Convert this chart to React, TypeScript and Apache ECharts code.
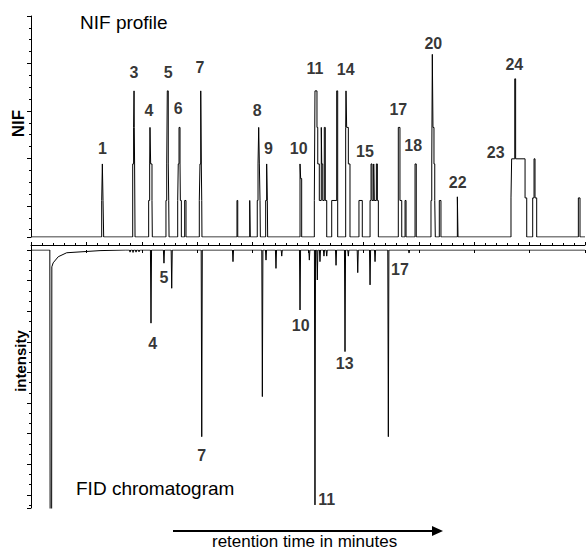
import React, { useEffect, useRef } from "react";
import * as echarts from "echarts";

// NIF profile: step changes [retention time (min), NIF level after the change]
const nifSteps: [number, number][] = [
  [6.38, 1], [6.44, 2], [6.5, 1], [6.56, 0],
  [9.18, 2], [9.26, 3], [9.3, 4], [9.32, 3], [9.35, 2], [9.39, 0],
  [10.62, 1], [10.71, 2], [10.74, 3], [10.8, 2], [10.92, 1], [10.95, 0],
  [12.18, 1], [12.25, 2], [12.3, 4], [12.39, 2], [12.43, 1], [12.46, 0],
  [13.24, 1], [13.29, 2], [13.36, 3], [13.45, 2], [13.48, 1], [13.57, 0],
  [13.87, 1], [13.99, 0],
  [15.19, 1], [15.25, 2], [15.32, 4], [15.37, 2], [15.41, 1], [15.43, 0],
  [18.59, 1], [18.66, 0],
  [19.74, 1], [19.79, 0],
  [20.42, 1], [20.49, 2], [20.55, 3], [20.61, 2], [20.67, 1], [20.7, 0],
  [21.18, 1], [21.27, 2], [21.33, 1], [21.36, 0],
  [24.28, 2], [24.34, 1.6], [24.43, 0],
  [25.57, 1], [25.63, 4], [25.81, 3], [25.88, 2], [26.02, 1], [26.2, 3], [26.24, 2], [26.33, 1], [26.47, 3], [26.56, 1], [26.69, 0],
  [27.14, 1], [27.59, 4], [27.68, 0],
  [28.4, 3], [28.43, 4], [28.49, 3], [28.64, 2], [28.79, 0],
  [29.6, 1], [29.9, 0],
  [30.6, 1], [30.69, 2], [30.78, 1], [30.93, 2], [30.98, 1], [31.17, 2], [31.26, 1], [31.35, 0],
  [33.15, 3], [33.3, 1], [33.46, 0], [33.76, 1], [33.85, 0],
  [34.66, 2], [34.77, 0],
  [36.1, 1], [36.17, 2], [36.22, 5], [36.28, 3], [36.37, 2], [36.44, 1], [36.49, 0],
  [36.85, 1], [37.0, 0],
  [38.48, 1.1], [38.54, 0],
  [43.32, 1.07], [43.38, 2.14], [43.66, 4.33], [43.74, 2.14], [44.59, 1.07], [44.74, 0],
  [45.28, 1.07], [45.4, 2.14], [45.49, 1.07], [45.64, 0],
  [49.4, 1.07], [49.55, 0],
];

// FID chromatogram: solvent peak (off scale) and its tail [time, intensity]
const fidSolvent: [number, number][] = [
  [1.7, 0], [1.73, 10], [1.86, 10], [1.88, 0.55], [2.0, 0.42], [2.46, 0.22], [3.22, 0.09], [6.23, 0.02], [8.5, 0],
];
// FID peaks: retention times and peak intensities
const fidPeakTimes = [
  8.94, 9.21, 9.48, 9.75, 10.83, 12.0, 12.7, 15.41, 18.23, 20.88, 21.21, 22.11, 22.63, 24.28,
  25.12, 25.63, 25.84, 26.08, 26.44, 26.69, 27.53, 28.34, 28.64, 29.49, 30.6, 31.05, 32.25, 34.12,
];
const fidPeakHeights = [
  0.07, 0.08, 0.07, 0.06, 2.39, 0.43, 1.25, 6.1, 0.38, 4.79, 0.33, 0.6, 0.2, 1.96,
  0.33, 8.33, 0.98, 0.38, 0.2, 0.2, 0.5, 3.32, 0.2, 0.74, 1.14, 0.38, 6.1, 0.1,
];

// Peak number annotations: [time, level, text]
const nifLabels: [number, number, string][] = [
  [6.44, 2.42, "1"], [9.3, 4.51, "3"], [10.65, 3.46, "4"], [12.39, 4.51, "5"], [13.29, 3.51, "6"],
  [15.25, 4.64, "7"], [20.42, 3.45, "8"], [21.42, 2.42, "9"], [24.16, 2.42, "10"], [25.63, 4.6, "11"],
  [28.4, 4.59, "14"], [30.14, 2.34, "15"], [33.15, 3.49, "17"], [34.5, 2.5, "18"], [36.31, 5.31, "20"],
  [38.51, 1.5, "22"], [41.94, 2.32, "23"], [43.62, 4.71, "24"],
];
const fidLabels: [number, number, string][] = [
  [10.98, 3.05, "4"], [12.0, 0.9, "5"], [15.41, 6.7, "7"], [24.34, 2.48, "10"],
  [26.69, 8.14, "11"], [28.31, 3.71, "13"], [33.3, 0.65, "17"],
];

const FONT = '"Liberation Sans", Arial, sans-serif';

export default function App() {
  const ref = useRef<HTMLDivElement>(null);
  useEffect(() => {
    if (!ref.current) return;
    const chart = echarts.init(ref.current, undefined, { renderer: "svg" });

    const nifLine: number[][] = [[0, 0]];
    let prev = 0;
    for (const [t, l] of nifSteps) {
      nifLine.push([t, prev], [t, l]);
      prev = l;
    }
    nifLine.push([50, prev]);

    const fidLine: number[][] = [[0, 0], ...fidSolvent];
    const hw = 0.05;
    fidPeakTimes.forEach((t, i) => {
      fidLine.push([t - hw, 0], [t, fidPeakHeights[i]], [t + hw, 0]);
    });
    fidLine.push([50, 0]);

    const black = { color: "#000", width: 1 };
    const labelStyle = {
      show: true,
      position: "inside",
      formatter: "{b}",
      color: "#000",
      fontSize: 16,
      fontWeight: "bold",
      fontFamily: FONT,
    };

    const option: any = {
      animation: false,
      grid: [
        { left: 31, right: 1, top: 16, height: 221 },
        { left: 31, right: 1, top: 250, height: 258 },
      ],
      xAxis: [
        { gridIndex: 0, type: "value", min: 0, max: 50, show: false },
        {
          gridIndex: 1, type: "value", min: 0, max: 50, interval: 5, position: "top", offset: 5,
          axisLine: { show: true, onZero: false, lineStyle: black },
          axisTick: { show: true, inside: false, length: 3, lineStyle: black },
          minorTick: { show: true, splitNumber: 5, length: 2, lineStyle: black },
          axisLabel: { show: false }, splitLine: { show: false },
        },
        {
          gridIndex: 1, type: "value", min: 0, max: 50, interval: 5, position: "top", offset: 0,
          axisLine: { show: false, onZero: false },
          axisTick: { show: true, inside: true, length: 3, lineStyle: black },
          axisLabel: { show: false }, splitLine: { show: false },
        },
      ],
      yAxis: [
        { gridIndex: 0, type: "value", min: 0, max: 6.05, show: false },
        {
          gridIndex: 0, type: "value", min: 0, max: 6.05, interval: 1.3, inverse: true, position: "left",
          axisLine: { show: true, onZero: false, lineStyle: black },
          axisTick: { show: true, inside: false, length: 4, lineStyle: black },
          minorTick: { show: true, splitNumber: 4, length: 2, lineStyle: black },
          axisLabel: { show: false }, splitLine: { show: false },
        },
        {
          gridIndex: 1, type: "value", min: 0, max: 8.43, interval: 1, inverse: true, position: "left",
          axisLine: { show: true, onZero: false, lineStyle: black },
          axisTick: { show: true, inside: false, length: 4, lineStyle: black },
          minorTick: { show: true, splitNumber: 3, length: 2, lineStyle: black },
          axisLabel: { show: false }, splitLine: { show: false },
        },
      ],
      series: [
        {
          type: "line", xAxisIndex: 0, yAxisIndex: 0, data: nifLine, symbol: "none",
          lineStyle: black, silent: true,
        },
        {
          type: "line", xAxisIndex: 1, yAxisIndex: 2, data: fidLine, symbol: "none",
          lineStyle: black, silent: true,
        },
        {
          type: "scatter", xAxisIndex: 0, yAxisIndex: 0, symbolSize: 1,
          itemStyle: { color: "rgba(0,0,0,0)" }, label: labelStyle, silent: true,
          data: nifLabels.map(([t, v, s]) => ({ name: s, value: [t, v] })),
        },
        {
          type: "scatter", xAxisIndex: 1, yAxisIndex: 2, symbolSize: 1,
          itemStyle: { color: "rgba(0,0,0,0)" }, label: labelStyle, silent: true,
          data: fidLabels.map(([t, v, s]) => ({ name: s, value: [t, v] })),
        },
      ],
      graphic: [
        {
          type: "line", shape: { x1: 31.5, y1: 245, x2: 31.5, y2: 250 },
          style: { stroke: "#000", lineWidth: 1 },
        },
        {
          type: "text", x: 80, y: 22,
          style: { text: "NIF profile", fontSize: 19, fontFamily: FONT, fill: "#000", align: "left", verticalAlign: "middle" },
        },
        {
          type: "text", x: 76, y: 488,
          style: { text: "FID chromatogram", fontSize: 19, fontFamily: FONT, fill: "#000", align: "left", verticalAlign: "middle" },
        },
        {
          type: "text", x: 18.5, y: 123.5, rotation: Math.PI / 2,
          style: { text: "NIF", fontSize: 17, fontWeight: "bold", fontFamily: FONT, fill: "#000", align: "center", verticalAlign: "middle" },
        },
        {
          type: "text", x: 20.5, y: 361, rotation: Math.PI / 2,
          style: { text: "intensity", fontSize: 15, fontWeight: "bold", fontFamily: FONT, fill: "#000", align: "center", verticalAlign: "middle" },
        },
        {
          type: "line", shape: { x1: 173, y1: 531, x2: 434, y2: 531 },
          style: { stroke: "#000", lineWidth: 2 },
        },
        {
          type: "polygon", shape: { points: [[432, 526], [443, 531], [432, 536]] },
          style: { fill: "#000" },
        },
        {
          type: "text", x: 212, y: 541.5,
          style: { text: "retention time in minutes", fontSize: 17, fontFamily: FONT, fill: "#000", align: "left", verticalAlign: "middle" },
        },
      ],
    };
    chart.setOption(option);
    return () => chart.dispose();
  }, []);

  return (
    <div
      ref={ref}
      style={{ position: "absolute", left: 0, top: 0, width: 586, height: 550, background: "#fff" }}
    />
  );
}
